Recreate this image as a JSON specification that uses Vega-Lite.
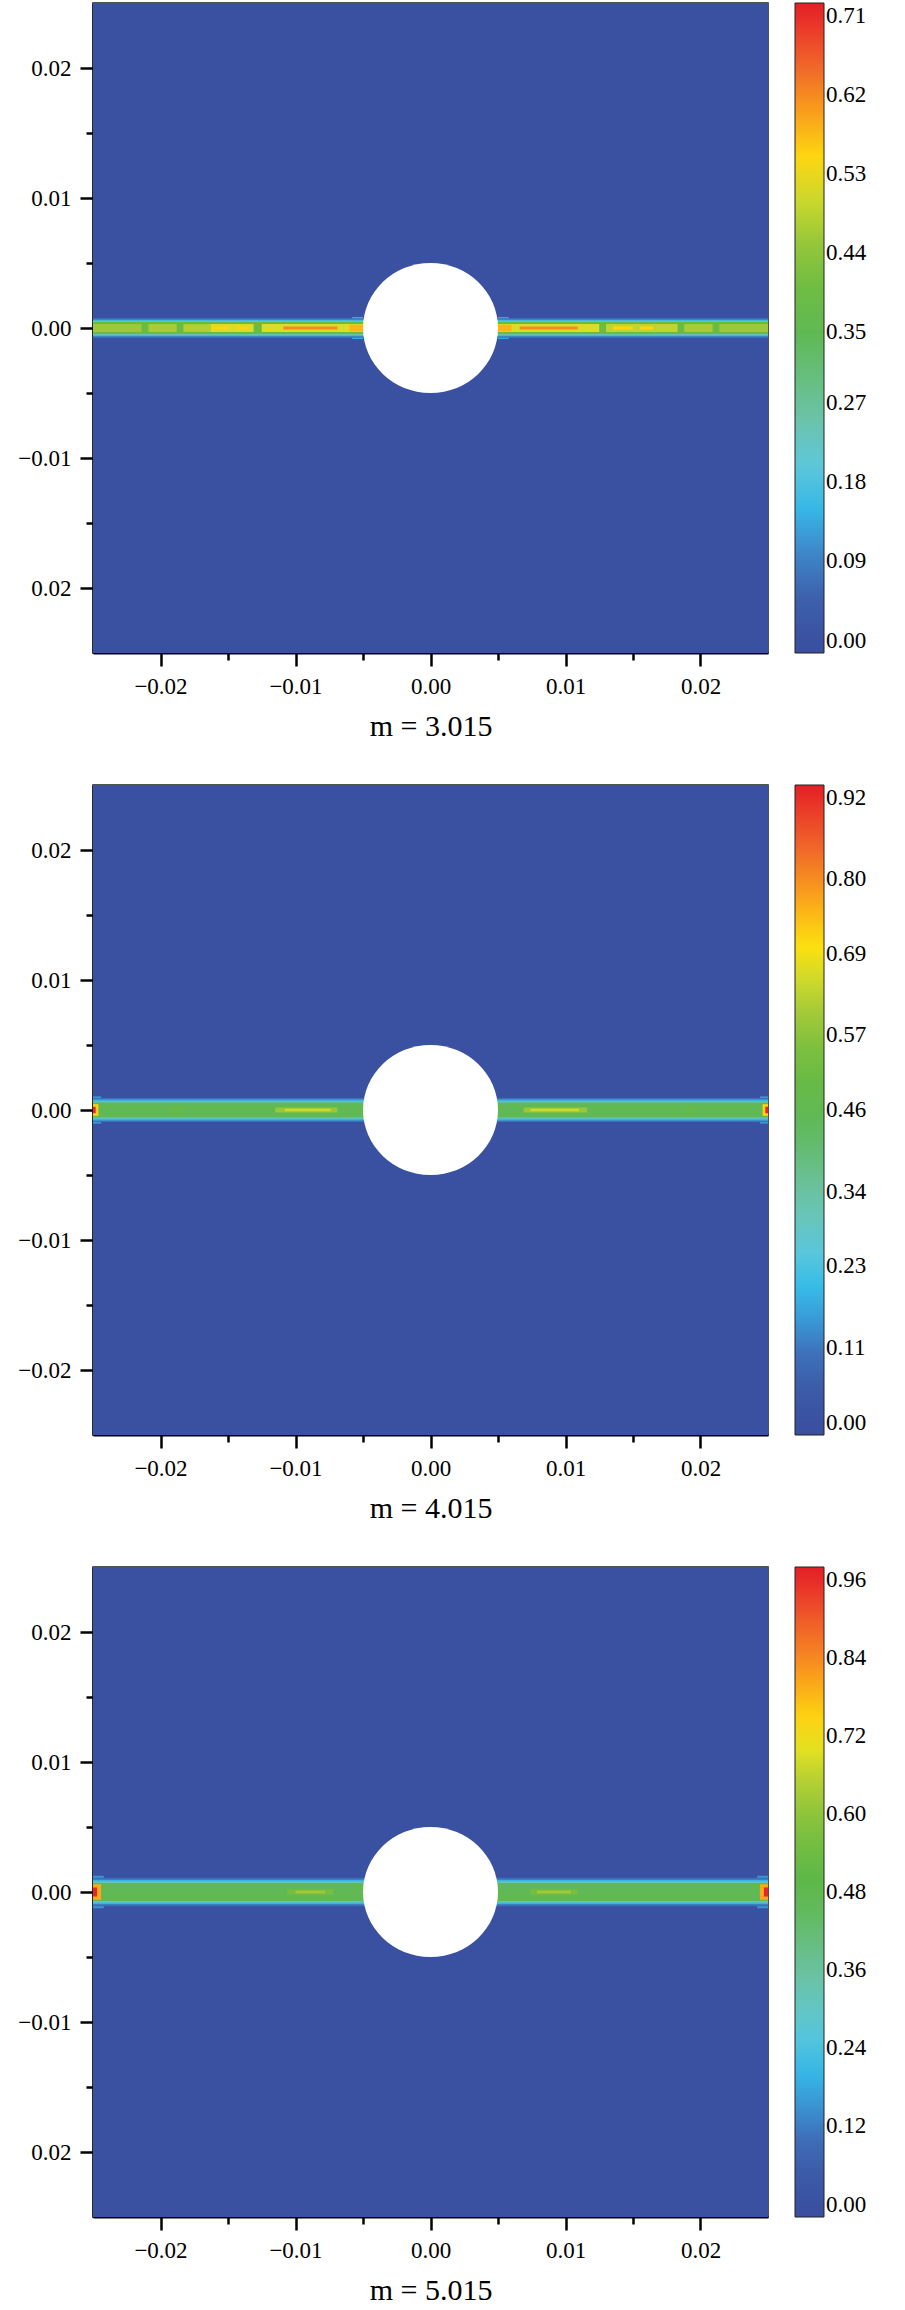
{
  "$schema": "https://vega.github.io/schema/vega-lite/v6.json",
  "background": "white",
  "padding": {"left": 17, "top": 2, "right": 5, "bottom": 2},
  "config": {
    "font": "Liberation Serif, serif",
    "view": {"stroke": "#1a1a1a", "strokeWidth": 1.5},
    "axis": {
      "grid": false,
      "domainColor": "#000000",
      "domainWidth": 2,
      "tickColor": "#000000",
      "tickWidth": 2.5,
      "labelFont": "Liberation Serif, serif",
      "labelFontSize": 23,
      "labelColor": "#000000",
      "labelPadding": 9,
      "titleFont": "Liberation Serif, serif",
      "titleFontSize": 30,
      "titleFontWeight": "normal",
      "titleColor": "#000000",
      "titlePadding": 13
    },
    "legend": {
      "gradientLength": 650,
      "gradientThickness": 29,
      "offset": 27,
      "labelOffset": 20,
      "labelFont": "Liberation Serif, serif",
      "labelFontSize": 23,
      "labelColor": "#000000",
      "labelOverlap": false,
      "gradientStrokeColor": "#222222",
      "gradientStrokeWidth": 1,
      "padding": 0
    }
  },
  "datasets": {
    "p1": [
      {"x1": -0.025, "x2": 0.025, "y1": -0.025, "y2": 0.025, "v": 0},
      {"x1": -0.0058, "x2": -0.005, "y1": -0.00085, "y2": 0.00085, "v": 0.13},
      {"x1": 0.005, "x2": 0.0058, "y1": -0.00085, "y2": 0.00085, "v": 0.13},
      {"x1": -0.025, "x2": 0.025, "y1": -0.00075, "y2": 0.00075, "v": 0.08},
      {"x1": -0.025, "x2": 0.025, "y1": -0.00064, "y2": 0.00064, "v": 0.15},
      {"x1": -0.025, "x2": 0.025, "y1": -0.00055, "y2": 0.00055, "v": 0.25},
      {"x1": -0.025, "x2": 0.025, "y1": -0.00047, "y2": 0.00047, "v": 0.39},
      {"x1": -0.025, "x2": -0.0214, "y1": -0.0003, "y2": 0.0003, "v": 0.46},
      {"x1": -0.0209, "x2": -0.0188, "y1": -0.0003, "y2": 0.0003, "v": 0.47},
      {"x1": -0.0183, "x2": -0.0163, "y1": -0.0003, "y2": 0.0003, "v": 0.48},
      {"x1": -0.0163, "x2": -0.0131, "y1": -0.0003, "y2": 0.0003, "v": 0.51},
      {"x1": -0.0125, "x2": -0.005, "y1": -0.0003, "y2": 0.0003, "v": 0.51},
      {"x1": 0.005, "x2": 0.0125, "y1": -0.0003, "y2": 0.0003, "v": 0.51},
      {"x1": 0.013, "x2": 0.0183, "y1": -0.0003, "y2": 0.0003, "v": 0.49},
      {"x1": 0.0188, "x2": 0.0209, "y1": -0.0003, "y2": 0.0003, "v": 0.47},
      {"x1": 0.0214, "x2": 0.025, "y1": -0.0003, "y2": 0.0003, "v": 0.46},
      {"x1": -0.0162, "x2": -0.015, "y1": -0.00012, "y2": 0.00012, "v": 0.55},
      {"x1": -0.0143, "x2": -0.0135, "y1": -0.00012, "y2": 0.00012, "v": 0.55},
      {"x1": -0.0109, "x2": -0.0069, "y1": -0.00012, "y2": 0.00012, "v": 0.62},
      {"x1": 0.0066, "x2": 0.0109, "y1": -0.00012, "y2": 0.00012, "v": 0.62},
      {"x1": 0.0135, "x2": 0.015, "y1": -0.00012, "y2": 0.00012, "v": 0.55},
      {"x1": 0.0155, "x2": 0.0165, "y1": -0.00012, "y2": 0.00012, "v": 0.55},
      {"x1": -0.006, "x2": -0.005, "y1": -0.00025, "y2": 0.00025, "v": 0.58},
      {"x1": 0.005, "x2": 0.006, "y1": -0.00025, "y2": 0.00025, "v": 0.58}
    ],
    "p2": [
      {"x1": -0.025, "x2": 0.025, "y1": -0.025, "y2": 0.025, "v": 0},
      {"x1": -0.025, "x2": -0.0244, "y1": -0.00105, "y2": 0.00105, "v": 0.15},
      {"x1": 0.0244, "x2": 0.025, "y1": -0.00105, "y2": 0.00105, "v": 0.15},
      {"x1": -0.025, "x2": 0.025, "y1": -0.00093, "y2": 0.00093, "v": 0.1},
      {"x1": -0.025, "x2": 0.025, "y1": -0.0008, "y2": 0.0008, "v": 0.19},
      {"x1": -0.025, "x2": 0.025, "y1": -0.00068, "y2": 0.00068, "v": 0.3},
      {"x1": -0.025, "x2": 0.025, "y1": -0.00058, "y2": 0.00058, "v": 0.45},
      {"x1": -0.0193, "x2": -0.0183, "y1": -0.00022, "y2": 0.00022, "v": 0.5},
      {"x1": 0.0189, "x2": 0.0197, "y1": -0.00022, "y2": 0.00022, "v": 0.5},
      {"x1": -0.0115, "x2": -0.0069, "y1": -0.0002, "y2": 0.0002, "v": 0.59},
      {"x1": -0.0108, "x2": -0.0074, "y1": -0.0001, "y2": 0.0001, "v": 0.65},
      {"x1": 0.0069, "x2": 0.0116, "y1": -0.0002, "y2": 0.0002, "v": 0.59},
      {"x1": 0.0074, "x2": 0.011, "y1": -0.0001, "y2": 0.0001, "v": 0.65},
      {"x1": -0.025, "x2": -0.0246, "y1": -0.00045, "y2": 0.00045, "v": 0.72},
      {"x1": -0.025, "x2": -0.0248, "y1": -0.00025, "y2": 0.00025, "v": 0.92},
      {"x1": 0.0246, "x2": 0.025, "y1": -0.00045, "y2": 0.00045, "v": 0.72},
      {"x1": 0.0248, "x2": 0.025, "y1": -0.00025, "y2": 0.00025, "v": 0.92}
    ],
    "p3": [
      {"x1": -0.025, "x2": 0.025, "y1": -0.025, "y2": 0.025, "v": 0},
      {"x1": -0.025, "x2": -0.0242, "y1": -0.00125, "y2": 0.00125, "v": 0.15},
      {"x1": 0.0242, "x2": 0.025, "y1": -0.00125, "y2": 0.00125, "v": 0.15},
      {"x1": -0.025, "x2": 0.025, "y1": -0.0011, "y2": 0.0011, "v": 0.1},
      {"x1": -0.025, "x2": 0.025, "y1": -0.00095, "y2": 0.00095, "v": 0.2},
      {"x1": -0.025, "x2": 0.025, "y1": -0.0008, "y2": 0.0008, "v": 0.32},
      {"x1": -0.025, "x2": 0.025, "y1": -0.0007, "y2": 0.0007, "v": 0.47},
      {"x1": -0.0106, "x2": -0.0072, "y1": -0.00022, "y2": 0.00022, "v": 0.56},
      {"x1": -0.01, "x2": -0.0078, "y1": -0.0001, "y2": 0.0001, "v": 0.63},
      {"x1": 0.0074, "x2": 0.0109, "y1": -0.00022, "y2": 0.00022, "v": 0.56},
      {"x1": 0.0079, "x2": 0.0104, "y1": -0.0001, "y2": 0.0001, "v": 0.63},
      {"x1": -0.025, "x2": -0.0244, "y1": -0.0006, "y2": 0.0006, "v": 0.8},
      {"x1": -0.025, "x2": -0.0247, "y1": -0.00035, "y2": 0.00035, "v": 0.96},
      {"x1": 0.0244, "x2": 0.025, "y1": -0.0006, "y2": 0.0006, "v": 0.8},
      {"x1": 0.0247, "x2": 0.025, "y1": -0.00035, "y2": 0.00035, "v": 0.96}
    ],
    "hole": [{"x1": 0, "y1": 0}]
  },
  "bounds": "flush",
  "spacing": 132,
  "resolve": {"scale": {"color": "independent"}, "legend": {"color": "independent"}},
  "vconcat": [
    {
      "width": 675,
      "height": 650,
      "encoding": {
        "x": {"field": "x1", "type": "quantitative", "scale": {"domain": [-0.025, 0.025], "nice": false, "zero": false},
          "axis": {"title": "m = 3.015", "values": [-0.02, -0.015, -0.01, -0.005, 0, 0.005, 0.01, 0.015, 0.02],
            "labelExpr": "abs(round(datum.value*1000)) % 10 != 0 ? '' : format(datum.value, '.2f')",
            "tickSize": {"condition": {"test": "abs(round(datum.value*1000)) % 10 == 0", "value": 13}, "value": 7}}},
        "y": {"field": "y1", "type": "quantitative", "scale": {"domain": [-0.025, 0.025], "nice": false, "zero": false},
          "axis": {"title": null, "values": [-0.02, -0.015, -0.01, -0.005, 0, 0.005, 0.01, 0.015, 0.02],
            "labelExpr": "abs(round(datum.value*1000)) % 10 != 0 ? '' : (datum.value < -0.015 ? '0.02' : format(datum.value, '.2f'))",
            "tickSize": {"condition": {"test": "abs(round(datum.value*1000)) % 10 == 0", "value": 13}, "value": 7}}}
      },
      "layer": [
        {
          "data": {"name": "p1"},
          "mark": {"type": "rect", "strokeWidth": 0},
          "encoding": {
            "x2": {"field": "x2"},
            "y2": {"field": "y2"},
            "color": {"field": "v", "type": "quantitative",
              "scale": {"domain": [-0.0142, 0, 0.0355, 0.071, 0.0994, 0.1278, 0.1562, 0.1988, 0.2414, 0.284, 0.3266, 0.3692, 0.426, 0.4686, 0.5041, 0.5325, 0.568, 0.6106, 0.6532, 0.71, 0.7242],
                "range": ["#3a4f9f", "#3a51a1", "#3c5aa8", "#3f6ab5", "#3e86c8", "#36a6df", "#38bde9", "#5ec7d9", "#6ec4b2", "#6cbf8c", "#63ba60", "#5db848", "#7dc03e", "#a6ca38", "#d0da2a", "#fbe811", "#fcc317", "#f7931f", "#f0652a", "#e8262a", "#e31f26"]},
              "legend": {"title": null, "values": [0, 0.09, 0.18, 0.27, 0.35, 0.44, 0.53, 0.62, 0.71], "format": ".2f"}}
          }
        },
        {
          "data": {"name": "hole"},
          "mark": {"type": "point", "shape": "M -1 0 A 1 0.963 0 1 0 1 0 A 1 0.963 0 1 0 -1 0 Z", "size": 18225, "filled": true, "color": "#ffffff", "opacity": 1, "strokeWidth": 0}
        }
      ]
    },
    {
      "width": 675,
      "height": 650,
      "encoding": {
        "x": {"field": "x1", "type": "quantitative", "scale": {"domain": [-0.025, 0.025], "nice": false, "zero": false},
          "axis": {"title": "m = 4.015", "values": [-0.02, -0.015, -0.01, -0.005, 0, 0.005, 0.01, 0.015, 0.02],
            "labelExpr": "abs(round(datum.value*1000)) % 10 != 0 ? '' : format(datum.value, '.2f')",
            "tickSize": {"condition": {"test": "abs(round(datum.value*1000)) % 10 == 0", "value": 13}, "value": 7}}},
        "y": {"field": "y1", "type": "quantitative", "scale": {"domain": [-0.025, 0.025], "nice": false, "zero": false},
          "axis": {"title": null, "values": [-0.02, -0.015, -0.01, -0.005, 0, 0.005, 0.01, 0.015, 0.02],
            "labelExpr": "abs(round(datum.value*1000)) % 10 != 0 ? '' : format(datum.value, '.2f')",
            "tickSize": {"condition": {"test": "abs(round(datum.value*1000)) % 10 == 0", "value": 13}, "value": 7}}}
      },
      "layer": [
        {
          "data": {"name": "p2"},
          "mark": {"type": "rect", "strokeWidth": 0},
          "encoding": {
            "x2": {"field": "x2"},
            "y2": {"field": "y2"},
            "color": {"field": "v", "type": "quantitative",
              "scale": {"domain": [-0.0184, 0, 0.046, 0.092, 0.1288, 0.1656, 0.2024, 0.2576, 0.3128, 0.368, 0.4232, 0.4784, 0.552, 0.6072, 0.6532, 0.69, 0.736, 0.7912, 0.8464, 0.92, 0.9384],
                "range": ["#3a4f9f", "#3a51a1", "#3c5aa8", "#3f6ab5", "#3e86c8", "#36a6df", "#38bde9", "#5ec7d9", "#6ec4b2", "#6cbf8c", "#63ba60", "#5db848", "#7dc03e", "#a6ca38", "#d0da2a", "#fbe811", "#fcc317", "#f7931f", "#f0652a", "#e8262a", "#e31f26"]},
              "legend": {"title": null, "values": [0, 0.11, 0.23, 0.34, 0.46, 0.57, 0.69, 0.8, 0.92], "format": ".2f"}}
          }
        },
        {
          "data": {"name": "hole"},
          "mark": {"type": "point", "shape": "M -1 0 A 1 0.963 0 1 0 1 0 A 1 0.963 0 1 0 -1 0 Z", "size": 18225, "filled": true, "color": "#ffffff", "opacity": 1, "strokeWidth": 0}
        }
      ]
    },
    {
      "width": 675,
      "height": 650,
      "encoding": {
        "x": {"field": "x1", "type": "quantitative", "scale": {"domain": [-0.025, 0.025], "nice": false, "zero": false},
          "axis": {"title": "m = 5.015", "values": [-0.02, -0.015, -0.01, -0.005, 0, 0.005, 0.01, 0.015, 0.02],
            "labelExpr": "abs(round(datum.value*1000)) % 10 != 0 ? '' : format(datum.value, '.2f')",
            "tickSize": {"condition": {"test": "abs(round(datum.value*1000)) % 10 == 0", "value": 13}, "value": 7}}},
        "y": {"field": "y1", "type": "quantitative", "scale": {"domain": [-0.025, 0.025], "nice": false, "zero": false},
          "axis": {"title": null, "values": [-0.02, -0.015, -0.01, -0.005, 0, 0.005, 0.01, 0.015, 0.02],
            "labelExpr": "abs(round(datum.value*1000)) % 10 != 0 ? '' : (datum.value < -0.015 ? '0.02' : format(datum.value, '.2f'))",
            "tickSize": {"condition": {"test": "abs(round(datum.value*1000)) % 10 == 0", "value": 13}, "value": 7}}}
      },
      "layer": [
        {
          "data": {"name": "p3"},
          "mark": {"type": "rect", "strokeWidth": 0},
          "encoding": {
            "x2": {"field": "x2"},
            "y2": {"field": "y2"},
            "color": {"field": "v", "type": "quantitative",
              "scale": {"domain": [-0.0192, 0, 0.048, 0.096, 0.1344, 0.1728, 0.2112, 0.2688, 0.3264, 0.384, 0.4416, 0.4992, 0.576, 0.6336, 0.6816, 0.72, 0.768, 0.8256, 0.8832, 0.96, 0.9792],
                "range": ["#3a4f9f", "#3a51a1", "#3c5aa8", "#3f6ab5", "#3e86c8", "#36a6df", "#38bde9", "#5ec7d9", "#6ec4b2", "#6cbf8c", "#63ba60", "#5db848", "#7dc03e", "#a6ca38", "#d0da2a", "#fbe811", "#fcc317", "#f7931f", "#f0652a", "#e8262a", "#e31f26"]},
              "legend": {"title": null, "values": [0, 0.12, 0.24, 0.36, 0.48, 0.6, 0.72, 0.84, 0.96], "format": ".2f"}}
          }
        },
        {
          "data": {"name": "hole"},
          "mark": {"type": "point", "shape": "M -1 0 A 1 0.963 0 1 0 1 0 A 1 0.963 0 1 0 -1 0 Z", "size": 18225, "filled": true, "color": "#ffffff", "opacity": 1, "strokeWidth": 0}
        }
      ]
    }
  ]
}
